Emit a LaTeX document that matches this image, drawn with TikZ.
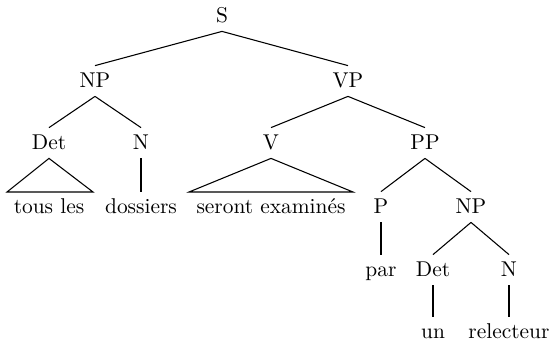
\documentclass[tikz,border=0pt]{standalone}
\usepackage{tikz}

\tikzset{
    cat/.style={inner sep=3pt, text height=1.6ex, text depth=.25ex},
    branch/.style={line width=0.5pt}
}

\begin{document}
\begin{tikzpicture}[x=0.467pt, y=-0.467pt]
        \useasboundingbox (0,0) rectangle (550,342);
        % upper levels
        \node[cat] (s) at (222,16) {S};
        \node[cat] (np) at (95,81) {NP};
        \node[cat] (vp) at (348,81) {VP};
        \node[cat] (det) at (49,143) {Det};
        \node[cat] (n) at (141,143) {N};
        \node[cat] (v) at (271,143) {V};
        \node[cat] (pp) at (425,143) {PP};
        % words and lower levels
        \node[cat] (tousles) at (49,207) {tous les};
        \node[cat] (dossiers) at (141,207) {dossiers};
        \node[cat] (seront) at (271,207) {seront examinés};
        \node[cat] (p) at (381,207) {P};
        \node[cat] (npb) at (471,207) {NP};
        \node[cat] (par) at (381,270) {par};
        \node[cat] (detb) at (433,270) {Det};
        \node[cat] (nb) at (509,270) {N};
        \node[cat] (un) at (433,332) {un};
        \node[cat] (relecteur) at (509,332) {relecteur};
        % triangle corners
        \coordinate (tla) at (7,192);
        \coordinate (tlb) at (93,192);
        \coordinate (sea) at (189,192);
        \coordinate (seb) at (353,192);

        \draw[branch] (s.south) -- (np.north);
        \draw[branch] (s.south) -- (vp.north);
        \draw[branch] (np.south) -- (det.north);
        \draw[branch] (np.south) -- (n.north);
        \draw[branch] (vp.south) -- (v.north);
        \draw[branch] (vp.south) -- (pp.north);
        \draw[branch] (det.south) -- (tla) -- (tlb) -- cycle;
        \draw[branch] (n.south) -- (dossiers.north);
        \draw[branch] (v.south) -- (sea) -- (seb) -- cycle;
        \draw[branch] (pp.south) -- (p.north);
        \draw[branch] (pp.south) -- (npb.north);
        \draw[branch] (p.south) -- (par.north);
        \draw[branch] (npb.south) -- (detb.north);
        \draw[branch] (npb.south) -- (nb.north);
        \draw[branch] (detb.south) -- (un.north);
        \draw[branch] (nb.south) -- (relecteur.north);
    \end{tikzpicture}
\end{document}
